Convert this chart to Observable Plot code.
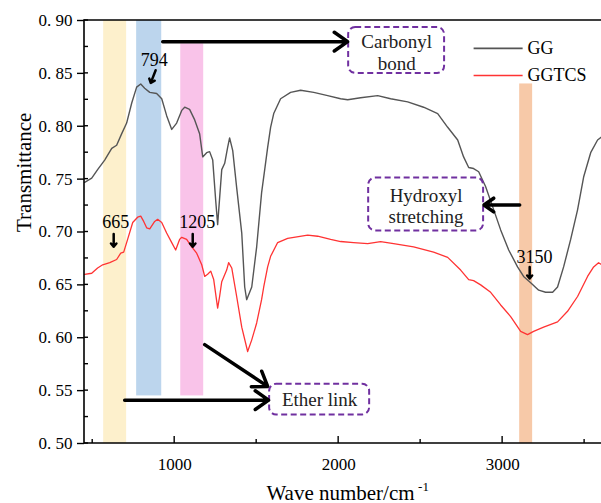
<!DOCTYPE html>
<html><head><meta charset="utf-8">
<script src="https://cdn.jsdelivr.net/npm/d3@7"></script>
<script src="https://cdn.jsdelivr.net/npm/@observablehq/plot@0.6"></script>
<style>
html,body{margin:0;padding:0;background:#fff}
svg{display:block}
#chart svg, #chart svg text{font-family:"Times New Roman","Liberation Serif","DejaVu Serif",serif !important}
</style>
</head><body><div id="chart"></div>
<script>
// ---- Data ----
const ggWavenumber = [451,494,530,573,616,646,677,707,738,768,793,817,848,890,921,951,982,1012,1043,1061,1091,1122,1152,1171,1195,1213,1232,1250,1262,1287,1305,1323,1335,1354,1378,1409,1427,1439,1470,1500,1530,1549,1567,1585,1604,1646,1707,1768,1848,1933,2012,2055,2134,2238,2317,2421,2518,2604,2665,2726,2762,2793,2823,2854,2896,2939,2988,3037,3091,3128,3171,3220,3262,3305,3335,3372,3415,3457,3494,3537,3579,3604];
const ggTransmittance = [0.747,0.751,0.759,0.768,0.779,0.782,0.793,0.803,0.822,0.837,0.840,0.836,0.832,0.831,0.826,0.810,0.797,0.803,0.815,0.818,0.816,0.806,0.793,0.771,0.775,0.776,0.768,0.730,0.707,0.759,0.765,0.780,0.789,0.777,0.742,0.699,0.648,0.636,0.648,0.686,0.737,0.759,0.780,0.799,0.812,0.826,0.832,0.834,0.832,0.829,0.826,0.825,0.827,0.829,0.826,0.823,0.818,0.812,0.799,0.787,0.771,0.761,0.760,0.757,0.743,0.724,0.702,0.683,0.667,0.658,0.652,0.645,0.643,0.643,0.648,0.667,0.693,0.721,0.752,0.775,0.787,0.790];
const ggtcsWavenumber = [451,494,530,561,604,646,671,689,713,744,774,793,811,829,848,878,896,921,951,982,1006,1030,1043,1073,1104,1134,1165,1183,1201,1220,1238,1262,1274,1287,1317,1329,1348,1378,1409,1445,1470,1500,1530,1543,1567,1585,1628,1689,1811,1872,1951,2012,2091,2177,2256,2335,2457,2579,2665,2744,2793,2823,2866,2927,2988,3049,3110,3152,3189,3250,3335,3396,3457,3518,3555,3585,3604];
const ggtcsTransmittance = [0.660,0.661,0.666,0.669,0.671,0.674,0.680,0.681,0.693,0.709,0.714,0.715,0.710,0.704,0.703,0.710,0.712,0.709,0.699,0.690,0.683,0.693,0.695,0.693,0.686,0.680,0.669,0.658,0.660,0.663,0.655,0.628,0.639,0.653,0.664,0.671,0.666,0.639,0.610,0.587,0.598,0.614,0.636,0.648,0.667,0.677,0.690,0.694,0.697,0.696,0.693,0.691,0.690,0.689,0.691,0.689,0.686,0.681,0.676,0.664,0.655,0.654,0.650,0.643,0.631,0.620,0.606,0.603,0.606,0.610,0.615,0.625,0.639,0.658,0.667,0.671,0.669];

const yTickValues = [0.50,0.55,0.60,0.65,0.70,0.75,0.80,0.85,0.90];
const yMinorTicks = [0.525,0.575,0.625,0.675,0.725,0.775,0.825,0.875];
const xTickValues = [1000,2000,3000];
const xMinorTicks = [500,1500,2500,3500];

// highlighted bands
const bandStart = [567, 768, 1037, 3104];
const bandEnd   = [707, 921, 1177, 3183];
const bandLow   = [0.50, 0.545, 0.545, 0.50];
const bandHigh  = [0.90, 0.90, 0.878, 0.840];
const bandColor = ["#fdf0cc", "#bcd5ed", "#f9c3e9", "#f7c9a8"];

// peak labels
const peakLabels = ["794", "665", "1205", "3150"];
const peakLabelX = [875, 640, 1137, 3195];
const peakLabelY = [0.862, 0.709, 0.709, 0.676];
const peakArrowX1 = [884, 628, 1110, 3165];
const peakArrowY1 = [0.853, 0.698, 0.698, 0.667];
const peakArrowX2 = [854, 628, 1110, 3165];
const peakArrowY2 = [0.841, 0.686, 0.686, 0.656];

// assignment boxes
const boxLabels = ["Carbonyl\nbond", "Hydroxyl\nstretching", "Ether link"];
const boxX1 = [2061, 2183, 1579];
const boxX2 = [2646, 2884, 2189];
const boxY1 = [0.850, 0.701, 0.527];
const boxY2 = [0.8934, 0.751, 0.556];
const boxTextX = [2354, 2533, 1884];
const boxTextY = [0.870, 0.725, 0.5415];

// pointer arrows to boxes
const pointerX1 = [927, 3104, 695, 1183];
const pointerY1 = [0.880, 0.7255, 0.541, 0.5935];
const pointerX2 = [2055, 2886, 1573, 1567];
const pointerY2 = [0.880, 0.7255, 0.541, 0.554];

// legend
const seriesNames = ["GG", "GGTCS"];
const seriesColors = ["#555555", "#ff3333"];
const legendY = [0.8736, 0.848];
const legendX1 = 2823, legendX2 = 3122, legendTextX = 3152;

// ---- build tables ----
const gg = ggWavenumber.map((w, i) => ({w, t: ggTransmittance[i]}));
const ggtcs = ggtcsWavenumber.map((w, i) => ({w, t: ggtcsTransmittance[i]}));
const bands = bandStart.map((s, i) => ({x1: s, x2: bandEnd[i], y1: bandLow[i], y2: bandHigh[i], c: bandColor[i]}));
const peaks = peakLabels.map((l, i) => ({l, x: peakLabelX[i], y: peakLabelY[i], ax1: peakArrowX1[i], ay1: peakArrowY1[i], ax2: peakArrowX2[i], ay2: peakArrowY2[i]}));
const boxes = boxLabels.map((l, i) => ({l, x1: boxX1[i], x2: boxX2[i], y1: boxY1[i], y2: boxY2[i], tx: boxTextX[i], ty: boxTextY[i]}));
const pointers = pointerX1.map((x, i) => ({x1: x, y1: pointerY1[i], x2: pointerX2[i], y2: pointerY2[i]}));
const legend = seriesNames.map((n, i) => ({n, c: seriesColors[i], y: legendY[i]}));

const serif = "'Times New Roman', 'Liberation Serif', 'DejaVu Serif', serif";

// frame + inward ticks, drawn with the plot's scales
function frame(index, scales, values, dims) {
  const x = scales.x, y = scales.y;
  const x0 = dims.marginLeft, x1 = dims.width - dims.marginRight;
  const y0 = dims.marginTop, y1 = dims.height - dims.marginBottom;
  const g = d3.create("svg:g").attr("fill", "none").attr("stroke", "#000");
  g.append("path").attr("stroke-width", 1.6)
    .attr("d", `M${x0},${y0}H${x1}M${x0},${y0 - 0.8}V${y1}H${x1}`);
  for (const v of yMinorTicks.concat(yTickValues)) {
    g.append("line").attr("stroke-width", 1.4).attr("x1", x0).attr("x2", x0 + 4).attr("y1", y(v)).attr("y2", y(v));
  }
  for (const v of xTickValues) {
    g.append("line").attr("stroke-width", 1.4).attr("x1", x(v)).attr("x2", x(v)).attr("y1", y1).attr("y2", y1 - 7);
  }
  for (const v of xMinorTicks) {
    g.append("line").attr("stroke-width", 1.4).attr("x1", x(v)).attr("x2", x(v)).attr("y1", y1).attr("y2", y1 - 4);
  }
  return g.node();
}

const chart = Plot.plot({
  width: 601,
  height: 503,
  marginLeft: 84,
  marginRight: 0,
  marginTop: 20,
  marginBottom: 60,
  style: {fontFamily: serif, fontSize: "17px", color: "#000", background: "#fff"},
  x: {domain: [450, 3603]},
  y: {domain: [0.50, 0.90]},
  marks: [
    Plot.rect(bands, {x1: "x1", x2: "x2", y1: "y1", y2: "y2", fill: "c"}),
    Plot.line(gg, {x: "w", y: "t", stroke: seriesColors[0], strokeWidth: 1.4}),
    Plot.line(ggtcs, {x: "w", y: "t", stroke: seriesColors[1], strokeWidth: 1.3}),
    frame,
    Plot.axisY({ticks: yTickValues, tickSize: 7, tickPadding: 5, strokeWidth: 1.4,
      tickFormat: d => d.toFixed(2).replace(".", ". "), fontSize: 17, label: null}),
    Plot.axisX({ticks: xTickValues, tickSize: 0, tickPadding: 14, tickFormat: d => String(d), fontSize: 17, label: null}),
    Plot.text(["Transmittance"], {frameAnchor: "left", rotate: -90, dx: -60, fontSize: 21, fill: "#000", fontFamily: serif}),
    Plot.text(["Wave number/cm"], {frameAnchor: "bottom", dx: -2.5, dy: 56, lineAnchor: "bottom", fontSize: 21, fill: "#000", fontFamily: serif}),
    Plot.text(["-1"], {frameAnchor: "bottom", dx: 80.5, dy: 47, lineAnchor: "bottom", fontSize: 13, fill: "#000", fontFamily: serif}),
    // boxes
    Plot.rect(boxes, {x1: "x1", x2: "x2", y1: "y1", y2: "y2", fill: "none", stroke: "#7030a0",
      strokeWidth: 2, strokeDasharray: "6,3.5", rx: 7}),
    Plot.text(boxes, {x: "tx", y: "ty", text: "l", fontSize: 19, lineHeight: 1.12, fill: "#222", fontFamily: serif}),
    // pointer arrows
    Plot.arrow(pointers, {x1: "x1", y1: "y1", x2: "x2", y2: "y2", stroke: "#000", strokeWidth: 3.5, headLength: 7, headAngle: 70}),
    // peak labels
    Plot.text(peaks, {x: "x", y: "y", text: "l", fontSize: 18, fill: "#000", fontFamily: serif}),
    Plot.arrow(peaks, {x1: "ax1", y1: "ay1", x2: "ax2", y2: "ay2", stroke: "#000", strokeWidth: 2.5, headLength: 6, headAngle: 80}),
    // legend
    Plot.link(legend, {x1: legendX1, x2: legendX2, y1: "y", y2: "y", stroke: "c", strokeWidth: 1.6}),
    Plot.text(legend, {x: legendTextX, y: "y", text: "n", textAnchor: "start", fontSize: 18, fill: "#000", fontFamily: serif})
  ]
});
document.getElementById("chart").appendChild(chart);
</script></body></html>
